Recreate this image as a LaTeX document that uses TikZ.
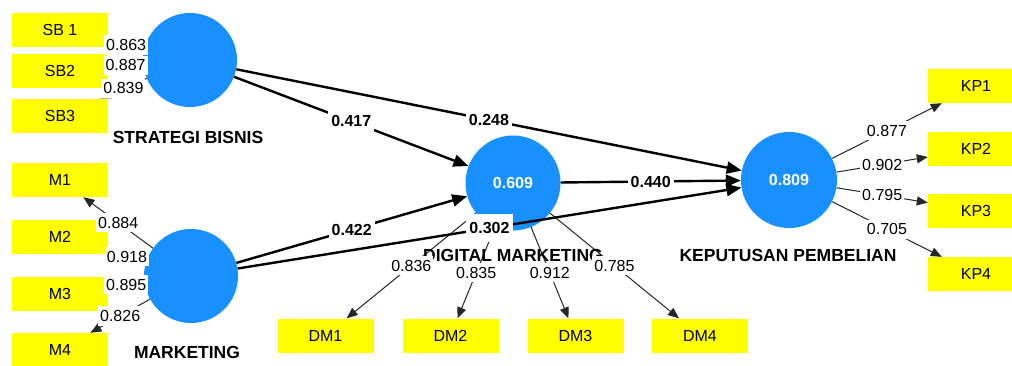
\documentclass[tikz,border=0pt]{standalone}
\usepackage{fontspec}
\setmainfont{Liberation Sans}
\usetikzlibrary{arrows.meta}
\definecolor{lvblue}{RGB}{24,144,255}
\definecolor{mvyellow}{RGB}{255,255,0}

\begin{document}
\begin{tikzpicture}[x=1pt,y=-1pt,
  construct/.style={circle, fill=lvblue, minimum size=94pt, inner sep=0pt,
    text=white, font=\fontsize{16}{19}\selectfont\bfseries},
  indicator/.style={rectangle, fill=mvyellow, minimum width=96pt,
    minimum height=34pt, inner sep=0pt, font=\fontsize{16}{19}\selectfont},
  loading/.style={draw=black!85, line width=1pt,
    -{Triangle[length=11pt,width=9pt]}},
  coef/.style={draw=black, line width=2.4pt,
    -{Triangle[length=15pt,width=12pt]}},
  lval/.style={fill=white, inner xsep=2pt, inner ysep=4pt,
    font=\fontsize{16}{19}\selectfont},
  pval/.style={fill=white, inner xsep=3pt, inner ysep=8pt,
    font=\fontsize{16}{19}\selectfont\bfseries},
  cname/.style={font=\fontsize{17.5}{20}\selectfont\bfseries}
]
\useasboundingbox (0,0) rectangle (1012,365);

% latent variables
\node[construct] (SB) at (190,60) {};
\node[construct] (MK) at (191,276) {};
\node[construct, minimum size=95pt] (DM) at (513,183) {0.609};
\node[construct, minimum size=96pt] (KP) at (789,180) {0.809};

% indicators
\node[indicator] (sb1) at (60,29.5) {SB 1};
\node[indicator] (sb2) at (60,71) {SB2};
\node[indicator] (sb3) at (60,115.5) {SB3};
\node[indicator] (m1) at (60,180) {M1};
\node[indicator] (m2) at (60,236.5) {M2};
\node[indicator] (m3) at (60,293.5) {M3};
\node[indicator] (m4) at (60,350) {M4};
\node[indicator] (dm1) at (325.5,335.5) {DM1};
\node[indicator] (dm2) at (450.5,335.5) {DM2};
\node[indicator] (dm3) at (575.5,335.5) {DM3};
\node[indicator] (dm4) at (700,335.5) {DM4};
\node[indicator] (kp1) at (976,86) {KP1};
\node[indicator] (kp2) at (976,149) {KP2};
\node[indicator] (kp3) at (976,210.5) {KP3};
\node[indicator] (kp4) at (976,274) {KP4};

% outer loadings
\foreach \c/\i in {SB/sb1,SB/sb2,SB/sb3,MK/m1,MK/m2,MK/m3,MK/m4,
                   DM/dm1,DM/dm2,DM/dm3,DM/dm4,KP/kp1,KP/kp2,KP/kp3,KP/kp4}
  \draw[loading] (\c) -- (\i);

% structural paths
\foreach \a/\b in {SB/DM,SB/KP,MK/DM,MK/KP,DM/KP}
  \draw[coef] (\a) -- (\b);

% construct names
\node[cname] (nSB) at (188,137) {STRATEGI BISNIS};
\node[cname] (nMK) at (187,352) {MARKETING};
\node[cname] (nDM) at (513,255) {DIGITAL MARKETING};
\node[cname] (nKP) at (788,255) {KEPUTUSAN PEMBELIAN};

% loading values
\foreach \c/\i/\v in {SB/sb1/0.863,SB/sb2/0.887,SB/sb3/0.839,
                      MK/m1/0.884,MK/m2/0.918,MK/m3/0.895,MK/m4/0.826,
                      DM/dm1/0.836,DM/dm2/0.835,DM/dm3/0.912,DM/dm4/0.785,
                      KP/kp1/0.877,KP/kp2/0.902,KP/kp3/0.795,KP/kp4/0.705}
  \path (\c) -- (\i) node[lval, pos=0.5] {\v};

% path coefficients
\foreach \a/\b/\v in {SB/DM/0.417,SB/KP/0.248,MK/DM/0.422,MK/KP/0.302,DM/KP/0.440}
  \path (\a) -- (\b) node[pval, pos=0.5] {\v};
\end{tikzpicture}
\end{document}
